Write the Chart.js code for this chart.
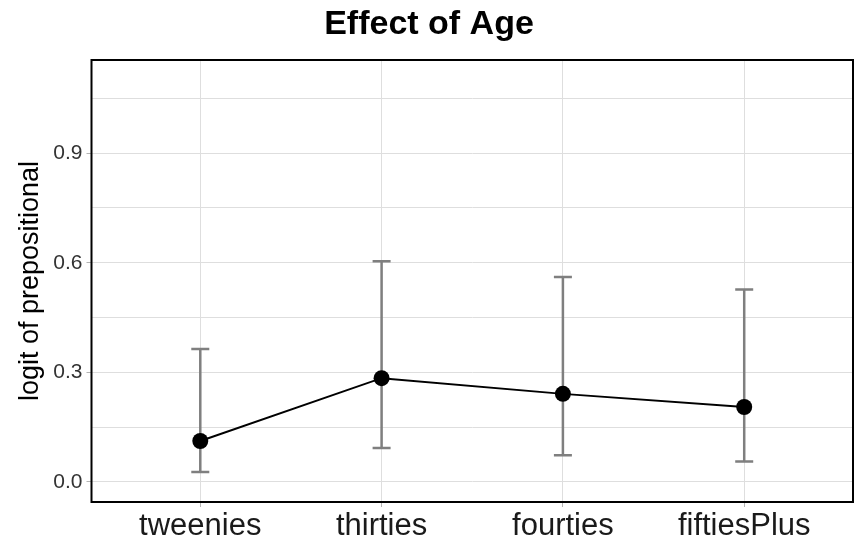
<!DOCTYPE html>
<html>
<head>
<meta charset="utf-8">
<script src="https://cdn.jsdelivr.net/npm/chart.js@4.4.0/dist/chart.umd.min.js"></script>
<style>
  html, body { margin: 0; padding: 0; background: #fff; }
</style>
</head>
<body>
<canvas id="ageChart" width="861" height="541"></canvas>
<script>
// Data
const categories = ['tweenies', 'thirties', 'fourties', 'fiftiesPlus'];
const estimates = [0.112, 0.284, 0.241, 0.205];
const lowerCI = [0.027, 0.093, 0.073, 0.056];
const upperCI = [0.364, 0.604, 0.561, 0.527];
const yTicks = [0, 0.15, 0.3, 0.45, 0.6, 0.75, 0.9, 1.05];
const yLabelTicks = [0, 0.3, 0.6, 0.9];

const FONT = "'Liberation Sans', Arial, Helvetica, sans-serif";
const GRID = '#dedede';
const TICK = '#b3b3b3';

// Error bars behind the points + black frame around the panel
const errorBars = {
    id: 'errorBars',
    beforeDatasetsDraw(chart) {
        const ctx = chart.ctx;
        const x = chart.scales.x;
        const y = chart.scales.y;
        ctx.save();
        ctx.strokeStyle = '#7f7f7f';
        ctx.lineWidth = 2.5;
        categories.forEach((c, i) => {
            const px = x.getPixelForValue(i);
            const top = y.getPixelForValue(upperCI[i]);
            const bot = y.getPixelForValue(lowerCI[i]);
            ctx.beginPath();
            ctx.moveTo(px, top);
            ctx.lineTo(px, bot);
            ctx.moveTo(px - 9, top);
            ctx.lineTo(px + 9, top);
            ctx.moveTo(px - 9, bot);
            ctx.lineTo(px + 9, bot);
            ctx.stroke();
        });
        ctx.restore();
    },
    afterDraw(chart) {
        const a = chart.chartArea;
        const ctx = chart.ctx;
        ctx.save();
        ctx.strokeStyle = '#000';
        ctx.lineWidth = 2;
        ctx.strokeRect(a.left, a.top, a.right - a.left, a.bottom - a.top);
        ctx.restore();
    }
};

function initAgeChart() {
    const ctx = document.getElementById('ageChart').getContext('2d');
    new Chart(ctx, {
        type: 'line',
        data: {
            datasets: [{
                data: estimates.map((v, i) => ({ x: i, y: v })),
                borderColor: '#000',
                borderWidth: 2,
                pointRadius: 8,
                pointBackgroundColor: '#000',
                pointBorderWidth: 0,
                tension: 0,
                fill: false
            }]
        },
        options: {
            responsive: false,
            animation: false,
            devicePixelRatio: 1,
            layout: {
                padding: { left: 0, right: 3, top: 0, bottom: 0 }
            },
            plugins: {
                legend: { display: false },
                tooltip: { enabled: false },
                title: {
                    display: true,
                    text: 'Effect of Age',
                    color: '#000',
                    font: { family: FONT, size: 34, weight: 'bold' },
                    padding: { top: 4, bottom: 15.2 }
                }
            },
            scales: {
                x: {
                    type: 'linear',
                    min: -0.6,
                    max: 3.6,
                    afterBuildTicks: (s) => { s.ticks = categories.map((c, i) => ({ value: i })); },
                    afterFit: (s) => { s.height = 39; },
                    border: { display: false },
                    grid: {
                        color: GRID,
                        lineWidth: 1,
                        tickLength: 5,
                        tickColor: TICK
                    },
                    ticks: {
                        callback: (v) => categories[v],
                        autoSkip: false,
                        maxRotation: 0,
                        padding: 1,
                        color: '#1a1a1a',
                        font: { family: FONT, size: 31 }
                    }
                },
                y: {
                    type: 'linear',
                    min: -0.055,
                    max: 1.155,
                    afterBuildTicks: (s) => { s.ticks = yTicks.map(v => ({ value: v })); },
                    afterFit: (s) => { s.width = 91.5; },
                    border: { display: false },
                    grid: {
                        color: GRID,
                        lineWidth: 1,
                        tickLength: 5,
                        tickColor: (c) => yLabelTicks.includes(c.tick.value) ? TICK : 'rgba(0,0,0,0)'
                    },
                    ticks: {
                        callback: (v) => yLabelTicks.includes(v) ? v.toFixed(1) : '',
                        autoSkip: false,
                        padding: 4,
                        color: '#333',
                        font: { family: FONT, size: 21 }
                    },
                    title: {
                        display: true,
                        text: 'logit of prepositional',
                        color: '#000',
                        font: { family: FONT, size: 27 },
                        padding: { top: 14, bottom: 0 }
                    }
                }
            }
        },
        plugins: [errorBars]
    });
}

window.addEventListener('load', () => {
    initAgeChart();
});
</script>
</body>
</html>
